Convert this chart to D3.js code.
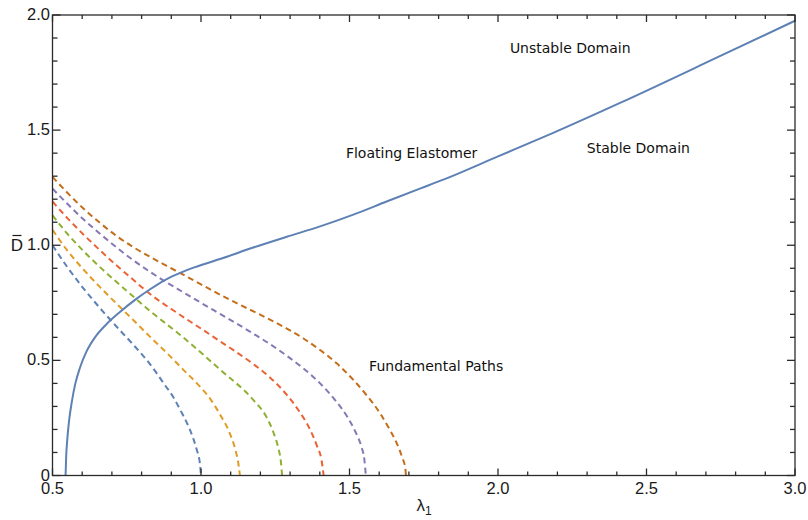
<!DOCTYPE html>
<html>
<head>
<meta charset="utf-8">
<script src="https://cdn.jsdelivr.net/npm/d3@7"></script>
<style>
    body { margin: 0; background: #fff; }
    svg { display: block; }
    .tick-label { font-family: "Liberation Sans", Arial, sans-serif; font-size: 16.5px; fill: #1a1a1a; }
    .note { font-family: "DejaVu Sans", Verdana, sans-serif; font-size: 14px; fill: #111; }
</style>
</head>
<body>
<div id="chart"></div>
<script>
// x: stretch lambda_1, y: normalised electric displacement D-bar
const xTicks = [0.5, 1.0, 1.5, 2.0, 2.5, 3.0];
const yTicks = [0, 0.5, 1.0, 1.5, 2.0];
const xTickLabels = ["0.5", "1.0", "1.5", "2.0", "2.5", "3.0"];
const yTickLabels = ["0", "0.5", "1.0", "1.5", "2.0"];

// stability boundary (solid)
const boundaryLambda = [0.544, 0.546, 0.55, 0.556, 0.565, 0.577, 0.593, 0.615, 0.643, 0.68, 0.727, 0.78,
    0.83, 0.88, 0.93, 0.98, 1.064, 1.176, 1.289, 1.401, 1.513, 1.625, 1.737, 1.816, 2.0, 2.186, 2.411, 2.747, 3.0];
const boundaryD = [0, 0.08, 0.16, 0.24, 0.32, 0.4, 0.47, 0.54, 0.6, 0.655, 0.71, 0.765,
    0.81, 0.85, 0.88, 0.905, 0.94, 0.99, 1.037, 1.082, 1.133, 1.19, 1.246, 1.285, 1.386, 1.488, 1.618, 1.821, 1.975];

// fundamental paths (dashed), one per pre-stretch
const pathColors = ["#5E81B5", "#E19C24", "#8FB032", "#EB6235", "#8778B3", "#C56E1A"];
const pathLambda = [
    [0.5, 0.55, 0.604, 0.66, 0.716, 0.772, 0.828, 0.88, 0.907, 0.93, 0.952, 0.97, 0.985, 0.997, 1.0],
    [0.5, 0.55, 0.604, 0.66, 0.716, 0.772, 0.828, 0.885, 0.94, 0.99, 1.03, 1.064, 1.098, 1.115, 1.126, 1.131],
    [0.5, 0.55, 0.604, 0.66, 0.716, 0.772, 0.828, 0.94, 1.064, 1.176, 1.22, 1.243, 1.26, 1.269, 1.273],
    [0.5, 0.55, 0.604, 0.66, 0.716, 0.772, 0.817, 0.929, 1.0, 1.064, 1.12, 1.176, 1.233, 1.289, 1.33, 1.367, 1.39, 1.406, 1.413],
    [0.5, 0.55, 0.604, 0.66, 0.716, 0.772, 0.828, 0.885, 0.94, 1.0, 1.064, 1.12, 1.176, 1.233, 1.289, 1.345, 1.401, 1.45, 1.491, 1.52, 1.54, 1.55, 1.555],
    [0.5, 0.55, 0.604, 0.66, 0.716, 0.772, 0.828, 0.885, 0.94, 1.0, 1.087, 1.154, 1.22, 1.289, 1.345, 1.401, 1.457, 1.513, 1.56, 1.603, 1.635, 1.659, 1.677, 1.688, 1.69]
];
const pathD = [
    [1.0, 0.905, 0.813, 0.727, 0.646, 0.568, 0.484, 0.39, 0.34, 0.285, 0.23, 0.175, 0.115, 0.045, 0],
    [1.067, 0.977, 0.895, 0.818, 0.746, 0.675, 0.603, 0.532, 0.46, 0.395, 0.335, 0.265, 0.18, 0.115, 0.05, 0],
    [1.13, 1.05, 0.975, 0.905, 0.84, 0.777, 0.715, 0.6, 0.46, 0.328, 0.255, 0.19, 0.12, 0.06, 0],
    [1.19, 1.118, 1.047, 0.978, 0.912, 0.85, 0.8, 0.698, 0.638, 0.583, 0.535, 0.484, 0.425, 0.35, 0.28, 0.2, 0.13, 0.065, 0],
    [1.246, 1.18, 1.113, 1.05, 0.99, 0.935, 0.885, 0.838, 0.796, 0.75, 0.702, 0.66, 0.616, 0.57, 0.52, 0.465, 0.4, 0.33, 0.258, 0.19, 0.125, 0.07, 0],
    [1.297, 1.228, 1.16, 1.097, 1.04, 0.992, 0.95, 0.91, 0.872, 0.83, 0.77, 0.727, 0.685, 0.638, 0.595, 0.545, 0.487, 0.415, 0.345, 0.27, 0.2, 0.14, 0.08, 0.03, 0]
];

const noteText = ["Unstable Domain", "Floating Elastomer", "Stable Domain", "Fundamental Paths"];
const noteLambda = [2.04, 1.488, 2.299, 1.566];
const noteD = [1.833, 1.38, 1.402, 0.454];

const W = 808, H = 520;
const margin = { top: 15, right: 13, bottom: 44.5, left: 52.5 };

const x = d3.scaleLinear().domain([0.5, 3.0]).range([margin.left, W - margin.right]);
const y = d3.scaleLinear().domain([0, 2.0]).range([H - margin.bottom, margin.top]);

const line = d3.line()
    .x(function (d) { return x(d[0]); })
    .y(function (d) { return y(d[1]); })
    .curve(d3.curveMonotoneX);

const svg = d3.select("#chart").append("svg")
    .attr("width", W)
    .attr("height", H);

const plot = svg.append("g");

// dashed fundamental paths
pathLambda.forEach(function (lams, k) {
    const pts = lams.map(function (l, i) { return [l, pathD[k][i]]; });
    plot.append("path")
        .datum(pts)
        .attr("fill", "none")
        .attr("stroke", pathColors[k])
        .attr("stroke-width", 2)
        .attr("stroke-dasharray", "6,4")
        .attr("d", line);
});

// solid boundary
const bpts = boundaryLambda.map(function (l, i) { return [l, boundaryD[i]]; });
plot.append("path")
    .datum(bpts)
    .attr("fill", "none")
    .attr("stroke", "#5E81B5")
    .attr("stroke-width", 2)
    .attr("d", line);

// frame with inward ticks on all four sides
const frame = svg.append("g").attr("stroke", "#2b2b2b").attr("stroke-width", 1.3);
frame.append("rect")
    .attr("x", x(0.5)).attr("y", y(2.0))
    .attr("width", x(3.0) - x(0.5)).attr("height", y(0) - y(2.0))
    .attr("fill", "none");

const xMinor = d3.range(6, 30).map(function (v) { return v / 10; }).filter(function (v) { return xTicks.indexOf(v) < 0; });
const yMinor = d3.range(1, 20).map(function (v) { return v / 10; }).filter(function (v) { return yTicks.indexOf(v) < 0; });

function hTicks(vals, len) {
    vals.forEach(function (v) {
        frame.append("line").attr("x1", x(v)).attr("x2", x(v)).attr("y1", y(0)).attr("y2", y(0) - len);
        frame.append("line").attr("x1", x(v)).attr("x2", x(v)).attr("y1", y(2)).attr("y2", y(2) + len);
    });
}
function vTicks(vals, len) {
    vals.forEach(function (v) {
        frame.append("line").attr("y1", y(v)).attr("y2", y(v)).attr("x1", x(0.5)).attr("x2", x(0.5) + len);
        frame.append("line").attr("y1", y(v)).attr("y2", y(v)).attr("x1", x(3)).attr("x2", x(3) - len);
    });
}
hTicks(xTicks, 7);
hTicks(xMinor, 4);
vTicks(yTicks, 8);
vTicks(yMinor, 5);

// tick labels
svg.selectAll(".xl").data(xTicks).enter().append("text")
    .attr("class", "tick-label")
    .attr("x", function (d) { return x(d); })
    .attr("y", y(0) + 18.5)
    .attr("text-anchor", "middle")
    .text(function (d, i) { return xTickLabels[i]; });

svg.selectAll(".yl").data(yTicks).enter().append("text")
    .attr("class", "tick-label")
    .attr("x", x(0.5) - 2.5)
    .attr("y", function (d) { return y(d) + 5; })
    .attr("text-anchor", "end")
    .text(function (d, i) { return yTickLabels[i]; });

// axis titles
const lab = svg.append("text")
    .attr("class", "tick-label")
    .attr("x", 424)
    .attr("y", 511)
    .attr("text-anchor", "middle")
    .style("font-size", "17px");
lab.append("tspan").text("λ");
lab.append("tspan").attr("dy", 4).style("font-size", "12px").text("1");

svg.append("text")
    .attr("class", "tick-label")
    .attr("x", 17)
    .attr("y", 250.5)
    .attr("text-anchor", "middle")
    .style("font-size", "17px")
    .text("D");
svg.append("line")
    .attr("x1", 12.5).attr("x2", 21.5)
    .attr("y1", 235.5).attr("y2", 235.5)
    .attr("stroke", "#1a1a1a").attr("stroke-width", 1.2);

// annotations
noteText.forEach(function (t, i) {
    svg.append("text")
        .attr("class", "note")
        .attr("x", x(noteLambda[i]))
        .attr("y", y(noteD[i]))
        .text(t);
});
</script>
</body>
</html>
